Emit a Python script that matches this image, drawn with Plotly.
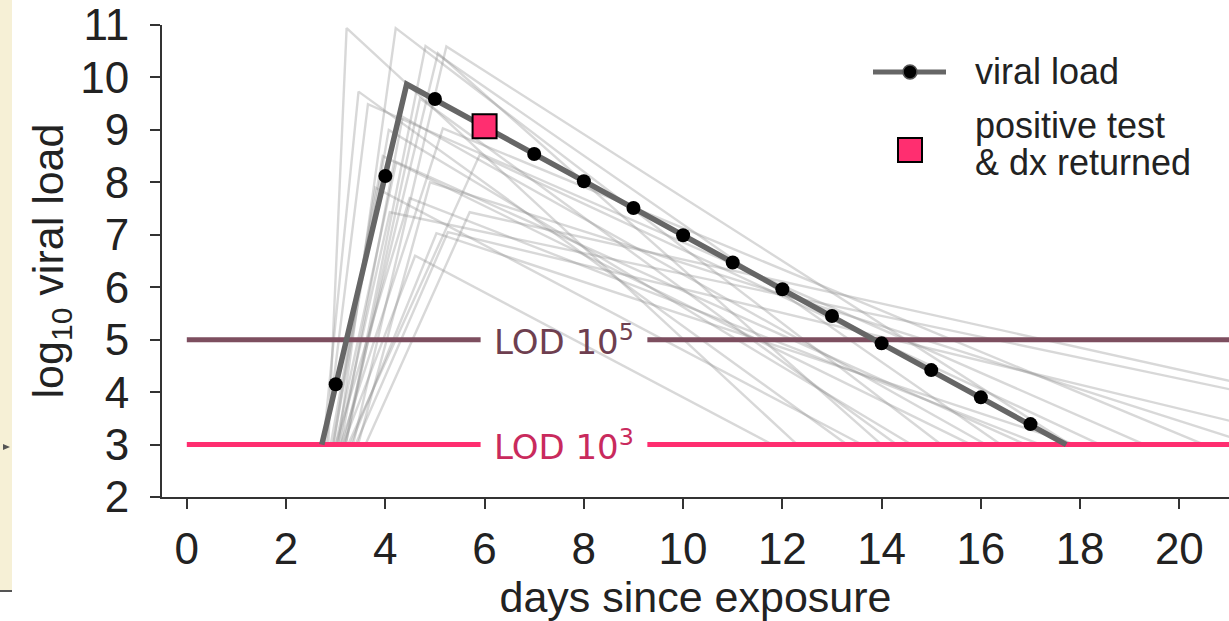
import plotly.graph_objects as go

# ---------------- data ----------------
# main (highlighted) trajectory: tent shape
main_x = [2.72, 4.43, 17.72]
main_y = [3.0, 9.87, 3.0]
# sampled daily viral loads
sample_days = [3, 4, 5, 7, 8, 9, 10, 11, 12, 13, 14, 15, 16, 17]
sample_vals = [4.15, 8.12, 9.59, 8.54, 8.02, 7.51, 6.99, 6.47, 5.96, 5.45, 4.93, 4.42, 3.90, 3.39]
# positive test & dx returned
test_day = [6]
test_val = [9.07]

# background trajectories: onset, peak time, peak value, clearance time
bg_onset = [2.85, 3.05, 3.20, 3.35, 3.15, 2.75, 2.80, 2.95, 3.10, 3.00, 2.90,
            3.25, 3.00, 3.05, 3.60, 3.40, 3.30, 2.95, 3.45, 3.10, 3.20, 3.15]
bg_peak_t = [3.22, 4.21, 4.81, 5.23, 5.06, 3.46, 3.65, 4.07, 5.16, 4.22, 3.95,
             5.90, 4.49, 4.09, 5.70, 5.26, 5.03, 3.80, 4.90, 4.35, 4.70, 4.60]
bg_peak_v = [10.94, 10.94, 10.60, 10.59, 10.46, 9.73, 9.49, 9.00, 9.03, 8.39, 8.50,
             8.52, 7.70, 7.43, 7.43, 7.05, 7.03, 7.90, 8.00, 9.25, 9.60, 6.60]
bg_clear = [12.3, 15.2, 16.4, 17.8, 14.0, 13.3, 19.3, 14.6, 20.5, 16.9, 15.8,
            18.4, 17.2, 26.3, 26.8, 23.0, 17.9, 13.6, 21.5, 16.1, 14.3, 11.8]

lod_levels = [5, 3]
lod_labels = ["LOD 10<sup>5</sup>", "LOD 10<sup>3</sup>"]
lod_gap = [5.92, 9.28]
lod_colors = ["#7D4E5F", "#FF2E70"]
lod_text_colors = ["#6E3F50", "#C92A5D"]

x_ticks = list(range(0, 21, 2))
y_ticks = list(range(2, 12))

# ---------------- figure ----------------
W, H = 1229, 621
L, R, T, B = 162, 0, 25, 124
PW, PH = W - L - R, H - T - B

def px(xp):
    return (xp - L) / PW

def py(yp):
    return (H - B - yp) / PH

fig = go.Figure()

for t0, tp, vp, te in zip(bg_onset, bg_peak_t, bg_peak_v, bg_clear):
    fig.add_trace(go.Scatter(x=[t0, tp, te], y=[3, vp, 3], mode="lines",
                             line=dict(color="rgba(140,140,140,0.34)", width=2.4),
                             showlegend=False, hoverinfo="skip"))

for lvl, col in zip(lod_levels, lod_colors):
    fig.add_trace(go.Scatter(x=[0, lod_gap[0], None, lod_gap[1], 22],
                             y=[lvl, lvl, None, lvl, lvl], mode="lines",
                             line=dict(color=col, width=5),
                             showlegend=False, hoverinfo="skip"))

fig.add_trace(go.Scatter(x=main_x, y=main_y, mode="lines",
                         line=dict(color="#666666", width=5.5),
                         showlegend=False))
fig.add_trace(go.Scatter(x=sample_days, y=sample_vals, mode="markers",
                         marker=dict(color="black", size=14),
                         showlegend=False))
fig.add_trace(go.Scatter(x=test_day, y=test_val, mode="markers",
                         marker=dict(color="#FF2E70", size=24, symbol="square",
                                     line=dict(color="black", width=2)),
                         showlegend=False))

for lvl, lab, tc in zip(lod_levels, lod_labels, lod_text_colors):
    fig.add_annotation(x=(lod_gap[0] + lod_gap[1]) / 2, y=lvl, text=lab,
                       showarrow=False, xanchor="center", yanchor="middle",
                       font=dict(family="DejaVu Sans", size=34, color=tc))

# manual legend
fig.add_shape(type="line", xref="paper", yref="paper",
              x0=px(873), x1=px(946), y0=py(72), y1=py(72),
              line=dict(color="#666666", width=5))
fig.add_shape(type="circle", xref="paper", yref="paper",
              x0=px(903), x1=px(917), y0=py(79), y1=py(65),
              fillcolor="black", line=dict(color="#555555", width=1.5))
fig.add_shape(type="rect", xref="paper", yref="paper",
              x0=px(898), x1=px(922), y0=py(162), y1=py(138),
              fillcolor="#FF2E70", line=dict(color="black", width=2))
fig.add_annotation(xref="paper", yref="paper", x=px(973), y=py(72),
                   text="viral load", showarrow=False, xanchor="left", yanchor="middle",
                   font=dict(family="Liberation Sans", size=36, color="#222222"))
fig.add_annotation(xref="paper", yref="paper", x=px(973), y=py(125),
                   text="positive test", showarrow=False,
                   xanchor="left", yanchor="middle", align="left",
                   font=dict(family="Liberation Sans", size=36, color="#222222"))
fig.add_annotation(xref="paper", yref="paper", x=px(973), y=py(162),
                   text="& dx returned", showarrow=False,
                   xanchor="left", yanchor="middle", align="left",
                   font=dict(family="Liberation Sans", size=36, color="#222222"))

# left cream strip (page background)
fig.add_shape(type="rect", xref="paper", yref="paper", layer="below",
              x0=px(0), x1=px(12), y0=py(590), y1=py(0),
              fillcolor="#F6F0D6", line=dict(width=0))
fig.add_shape(type="line", xref="paper", yref="paper",
              x0=px(0), x1=px(12), y0=py(591), y1=py(591),
              line=dict(color="#555555", width=2))
fig.add_shape(type="path", xref="paper", yref="paper",
              path=f"M {px(3)},{py(444)} L {px(10)},{py(447)} L {px(3)},{py(450)} Z",
              fillcolor="#555555", line=dict(width=0))

fig.update_layout(
    width=W, height=H,
    margin=dict(l=L, r=R, t=T, b=B, pad=0),
    plot_bgcolor="white", paper_bgcolor="white",
    font=dict(family="Liberation Sans", color="#222222"),
    showlegend=False,
)
fig.update_xaxes(range=[-0.5, 21], tickvals=x_ticks, ticks="outside", ticklen=10,
                 tickwidth=1.5, tickcolor="#333333", showline=True, linecolor="#333333",
                 linewidth=2, showgrid=False, zeroline=False,
                 tickfont=dict(size=44, family="Liberation Sans", color="#222222"),
                 ticklabelstandoff=2,
                 title=dict(text="days since exposure", standoff=8,
                            font=dict(size=43, family="Liberation Sans", color="#222222")))
fig.update_yaxes(range=[2, 11], tickvals=y_ticks, ticks="outside", ticklen=10,
                 tickwidth=1.5, tickcolor="#333333", showline=True, linecolor="#333333",
                 linewidth=2, showgrid=False, zeroline=False,
                 tickfont=dict(size=44, family="Liberation Sans", color="#222222"),
                 ticklabelstandoff=12,
                 title=dict(text="log<sub>10</sub> viral load", standoff=3,
                            font=dict(size=43, family="Liberation Sans", color="#222222")))

fig.write_html("out.html", config={"displayModeBar": False},
               post_script="document.body.style.margin='0px';document.body.style.overflow='hidden';")
